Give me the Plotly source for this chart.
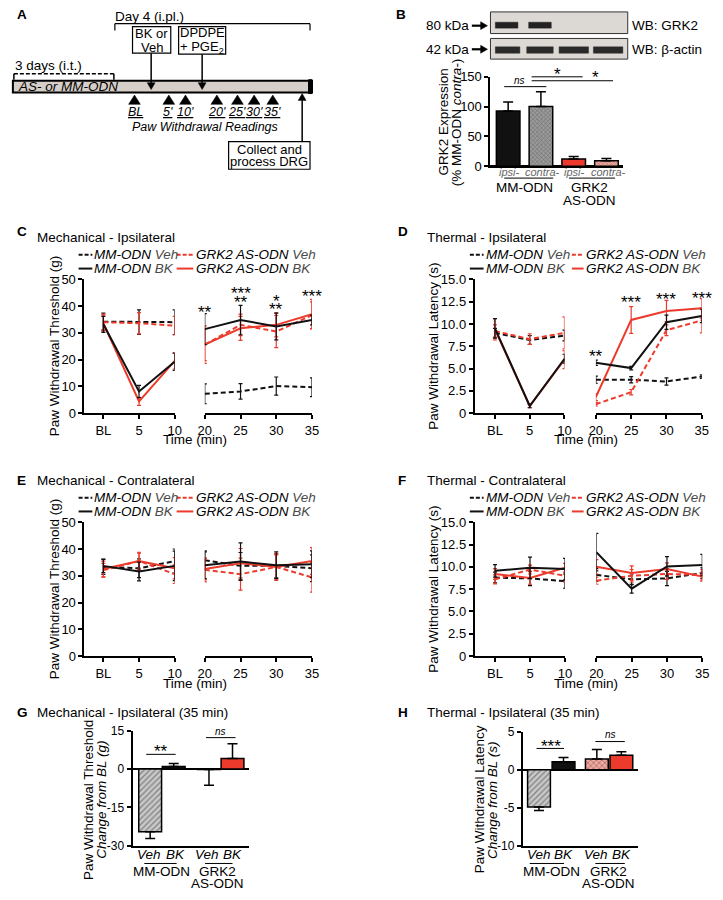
import plotly.graph_objects as go

W, H = 723, 900
FONT = "Liberation Sans, Arial, Helvetica, sans-serif"
RED = "#ec3b2c"
LRED = "#f5a79d"
BLK = "#111111"
DASH = "5px,3px"

# ------------------------------------------------------------------ data
time_left = ["BL", "5", "10"]
time_right = [20, 25, 30, 35]

# C  Mechanical - Ipsilateral (g)
c_mm_veh = [34.2, 34.0, 34.0, 7.2, 8.1, 10.1, 9.7]
c_mm_veh_err = [3.2, 4.6, 4.6, 3.7, 2.9, 3.4, 3.5]
c_as_veh = [34.0, 33.6, 32.7, 25.6, 33.0, 30.5, 36.6]
c_as_veh_err = [3.0, 4.0, 3.5, 6.0, 4.0, 6.0, 5.0]
c_mm_bk = [33.2, 8.1, 19.2, 31.4, 34.8, 32.4, 34.8]
c_mm_bk_err = [3.0, 2.3, 3.2, 5.8, 5.5, 5.0, 1.8]
c_as_bk = [33.6, 4.4, 19.5, 25.6, 31.7, 33.0, 37.0]
c_as_bk_err = [3.0, 1.5, 3.0, 7.0, 4.5, 4.5, 5.5]
c_sig_x = ["5", 20, 25, 25, 30, 30, 35]
c_sig_y = [40.7, 39.3, 46.2, 43.0, 43.2, 40.1, 45.2]
c_sig_t = ["***", "**", "***", "**", "*", "**", "***"]

# D  Thermal - Ipsilateral (s)
d_mm_veh = [9.0, 8.2, 8.7, 3.75, 3.75, 3.55, 4.1]
d_mm_veh_err = [0.5, 0.5, 0.6, 0.4, 0.35, 0.4, 0.2]
d_as_veh = [9.2, 8.3, 9.0, 1.0, 2.35, 9.3, 10.4]
d_as_veh_err = [0.7, 0.6, 1.8, 0.2, 0.3, 0.6, 1.4]
d_mm_bk = [9.5, 0.8, 6.1, 5.65, 5.05, 10.2, 10.9]
d_mm_bk_err = [1.1, 0.2, 0.5, 0.3, 0.2, 0.8, 0.75]
d_as_bk = [9.4, 0.8, 6.0, 1.8, 10.45, 11.45, 11.75]
d_as_bk_err = [1.2, 0.2, 1.0, 0.4, 1.5, 1.2, 1.1]
d_sig_x = ["5", 20, 25, 30, 35]
d_sig_y = [9.95, 6.75, 12.8, 13.2, 13.3]
d_sig_t = ["***", "**", "***", "***", "***"]

# E  Mechanical - Contralateral (g)
e_mm_veh = [33.3, 32.8, 35.5, 35.8, 33.7, 33.7, 32.8]
e_mm_veh_err = [2.8, 3.5, 4.5, 3.5, 5.0, 4.5, 5.0]
e_as_veh = [32.1, 35.5, 30.6, 32.2, 30.6, 33.3, 29.4]
e_as_veh_err = [2.5, 3.3, 3.5, 4.5, 6.0, 4.5, 5.5]
e_mm_bk = [33.7, 31.6, 33.7, 33.9, 35.3, 33.9, 34.3]
e_mm_bk_err = [2.5, 3.5, 5.5, 5.0, 7.0, 5.0, 5.0]
e_as_bk = [32.5, 35.5, 32.8, 32.5, 34.7, 33.3, 35.5]
e_as_bk_err = [3.0, 3.0, 4.0, 4.0, 5.5, 5.0, 5.0]

# F  Thermal - Contralateral (s)
f_mm_veh = [8.8, 8.7, 8.4, 9.1, 8.6, 8.7, 9.3]
f_mm_veh_err = [0.6, 0.8, 0.8, 0.7, 0.6, 0.8, 0.6]
f_as_veh = [8.6, 9.7, 9.0, 8.45, 9.0, 9.2, 9.1]
f_as_veh_err = [0.5, 0.5, 0.7, 0.4, 0.7, 0.6, 0.6]
f_mm_bk = [9.55, 9.9, 9.75, 11.65, 7.55, 10.05, 10.2]
f_mm_bk_err = [0.7, 1.2, 1.2, 2.1, 0.5, 1.1, 1.2]
f_as_bk = [9.2, 8.75, 9.9, 10.0, 9.3, 9.75, 8.9]
f_as_bk_err = [0.6, 0.7, 0.5, 0.8, 0.8, 0.7, 0.5]

# G / H  change from BL at 35 min (MM Veh, MM BK, AS Veh, AS BK)
g_values = [-24.5, 1.0, -0.2, 4.1]
g_err = [2.7, 1.2, 6.1, 5.8]
h_values = [-4.9, 1.05, 1.4, 1.9]
h_err = [0.45, 0.55, 1.25, 0.45]

# B  GRK2 expression
b_labels = ["MM ipsi", "MM contra", "AS ipsi", "AS contra"]
b_values = [92.5, 100.4, 12.1, 9.4]
b_err = [15.5, 24.6, 4.5, 3.8]

# ------------------------------------------------------------------ helpers
def X(px):
    return px / W


def Y(py):
    return 1 - py / H


shapes = []
annotations = []
layout_axes = {}
traces = []


def ax_names(i):
    return ("xaxis" if i == 1 else f"xaxis{i}", "x" if i == 1 else f"x{i}")


def ay_names(i):
    return ("yaxis" if i == 1 else f"yaxis{i}", "y" if i == 1 else f"y{i}")


def txt(text, x, y, size=13, xanchor="center", yanchor="middle", angle=0,
        color="black", xref="paper", yref="paper", yshift=0):
    annotations.append(dict(
        text=text, showarrow=False, xanchor=xanchor, yanchor=yanchor,
        x=X(x) if xref == "paper" else x, y=Y(y) if yref == "paper" else y,
        xref=xref, yref=yref, textangle=angle, yshift=yshift,
        font=dict(family=FONT, size=size, color=color)))


def line(x0, y0, x1, y1, width=1.5, color="black", dash="solid"):
    shapes.append(dict(type="line", xref="paper", yref="paper",
                       x0=X(x0), y0=Y(y0), x1=X(x1), y1=Y(y1),
                       line=dict(color=color, width=width, dash=dash)))


def rect(x0, y0, x1, y1, fill="white", lc="black", lw=1.5):
    shapes.append(dict(type="rect", xref="paper", yref="paper",
                       x0=X(x0), y0=Y(y0), x1=X(x1), y1=Y(y1),
                       fillcolor=fill, line=dict(color=lc, width=lw)))


def poly(pts, fill="black"):
    p = "M " + " L ".join(f"{X(a):.5f},{Y(b):.5f}" for a, b in pts) + " Z"
    shapes.append(dict(type="path", xref="paper", yref="paper", path=p,
                       fillcolor=fill, line=dict(color=fill, width=0.5)))


AX = dict(showline=True, linecolor="black", linewidth=2, ticks="outside",
          ticklen=4, tickwidth=2, tickcolor="black", showgrid=False,
          zeroline=False, fixedrange=True, showticklabels=True,
          tickfont=dict(family=FONT, size=13, color="black"))


def line_panel(ixl, ixr, iy, yax_px, xl_end, xr_start, xr_end, ytop, ybot,
               left_min, yrange, ytickvals, yticktext, series):
    xl_key, xl = ax_names(ixl)
    xr_key, xr = ax_names(ixr)
    y_key, yy = ay_names(iy)
    layout_axes[xl_key] = dict(AX, type="category", categoryorder="array",
                               categoryarray=time_left, range=[left_min, 2],
                               domain=[X(yax_px), X(xl_end)], anchor=yy)
    layout_axes[xr_key] = dict(AX, type="linear", range=[20, 35],
                               tickmode="array", tickvals=time_right,
                               domain=[X(xr_start), X(xr_end)], anchor=yy)
    layout_axes[y_key] = dict(AX, range=yrange, tickmode="array",
                              tickvals=ytickvals, ticktext=yticktext,
                              domain=[Y(ybot), Y(ytop)], anchor=xl)
    for vals, err, color, dash in series:
        for xs, sl, xa in ((time_left, slice(0, 3), xl), (time_right, slice(3, 7), xr)):
            traces.append(go.Scatter(
                x=xs, y=vals[sl], mode="lines", xaxis=xa, yaxis=yy,
                cliponaxis=False, showlegend=False, hoverinfo="skip",
                line=dict(color=color, width=2, dash=dash),
                error_y=dict(type="data", array=err[sl], color=color,
                             thickness=1.2, width=2)))
    return xl, xr, yy


def legend(xs0, xs1, xt, xr0, xr1, xrt, y1, y2):
    grey = "<span style='color:#4a4a4a'>%s</span>"
    line(xs0, y1, xs1, y1, 2, BLK, "4px,2px")
    txt("<i>MM-ODN " + grey % "Veh" + "</i>", xt, y1, 13.5, "left")
    line(xr0, y1, xr1, y1, 2, RED, "4px,2px")
    txt("<i>GRK2 AS-ODN " + grey % "Veh" + "</i>", xrt, y1, 13.5, "left")
    line(xs0, y2, xs1, y2, 2, BLK)
    txt("<i>MM-ODN " + grey % "BK" + "</i>", xt, y2, 13.5, "left")
    line(xr0, y2, xr1, y2, 2, RED)
    txt("<i>GRK2 AS-ODN " + grey % "BK" + "</i>", xrt, y2, 13.5, "left")


def series_of(mv, mve, av, ave, mb, mbe, ab, abe):
    return [(mv, mve, BLK, DASH), (av, ave, RED, DASH),
            (ab, abe, RED, "solid"), (mb, mbe, BLK, "solid")]


TH_TICKS = [0, 2.5, 5, 7.5, 10, 12.5, 15]
TH_TEXT = ["0", "2.5", "5.0", "7.5", "10.0", "12.5", "15.0"]
MECH_TICKS = [0, 10, 20, 30, 40, 50]
MECH_TEXT = [str(v) for v in MECH_TICKS]

# ------------------------------------------------------------------ C
xl, xr, yy = line_panel(1, 2, 1, 79, 171, 201.7, 311, 277, 413, -0.53,
                        [0, 50], MECH_TICKS, MECH_TEXT,
                        series_of(c_mm_veh, c_mm_veh_err, c_as_veh, c_as_veh_err,
                                  c_mm_bk, c_mm_bk_err, c_as_bk, c_as_bk_err))
for sx, sy, st in zip(c_sig_x, c_sig_y, c_sig_t):
    txt(st, sx, sy, 17, xref=xl if isinstance(sx, str) else xr, yref=yy, yshift=-4)
txt("<b>C</b>", 8, 228, 13.5, "left")
txt("Mechanical - Ipsilateral", 29, 234, 13.5, "left")
legend(73, 87, 87, 173, 190, 191, 252, 266)
txt("Paw Withdrawal Threshold (g)", 48, 345, 13.5, angle=-90)
txt("Time (min)", 192, 440, 13.5)

# ------------------------------------------------------------------ D
xl, xr, yy = line_panel(3, 4, 2, 477, 568.5, 600.5, 708.5, 277, 413, -0.58,
                        [0, 15], TH_TICKS, TH_TEXT,
                        series_of(d_mm_veh, d_mm_veh_err, d_as_veh, d_as_veh_err,
                                  d_mm_bk, d_mm_bk_err, d_as_bk, d_as_bk_err))
for sx, sy, st in zip(d_sig_x, d_sig_y, d_sig_t):
    txt(st, sx, sy, 17, xref=xl if isinstance(sx, str) else xr, yref=yy, yshift=-4)
txt("<b>D</b>", 397, 228, 13.5, "left")
txt("Thermal - Ipsilateral", 426, 234, 13.5, "left")
legend(472, 486, 486, 576, 588, 588, 252, 266)
txt("Paw Withdrawal Latency (s)", 435, 345, 13.5, angle=-90)
txt("Time (min)", 590, 440, 13.5)

# ------------------------------------------------------------------ E
line_panel(5, 6, 3, 79, 171, 201.7, 311, 524, 660, -0.53,
           [0, 50], MECH_TICKS, MECH_TEXT,
           series_of(e_mm_veh, e_mm_veh_err, e_as_veh, e_as_veh_err,
                     e_mm_bk, e_mm_bk_err, e_as_bk, e_as_bk_err))
txt("<b>E</b>", 8, 482, 13.5, "left")
txt("Mechanical - Contralateral", 29, 482, 13.5, "left")
legend(73, 87, 87, 173, 190, 191, 499, 513)
txt("Paw Withdrawal Threshold (g)", 48, 592, 13.5, angle=-90)
txt("Time (min)", 192, 688, 13.5)

# ------------------------------------------------------------------ F
line_panel(7, 8, 4, 477, 569, 601, 709, 524, 660, -0.58,
           [0, 15], TH_TICKS, TH_TEXT,
           series_of(f_mm_veh, f_mm_veh_err, f_as_veh, f_as_veh_err,
                     f_mm_bk, f_mm_bk_err, f_as_bk, f_as_bk_err))
txt("<b>F</b>", 397, 482, 13.5, "left")
txt("Thermal - Contralateral", 426, 482, 13.5, "left")
legend(472, 486, 486, 576, 588, 588, 499, 513)
txt("Paw Withdrawal Latency (s)", 435, 592, 13.5, angle=-90)
txt("Time (min)", 590, 688, 13.5)

# ------------------------------------------------------------------ bar helpers
BAR_FILL = dict(
    mm_veh=("#c9c9c9", "/", "#555555"),
    mm_bk=(BLK, "", BLK),
    as_veh=(LRED, "x", RED),
    as_bk=(RED, "", RED),
)


def bar_panel(ix, iy, xdom, ydom, xrange, yrange, ytickvals, xs, vals, errs,
              kinds, width, xcat=None, tick_size=13):
    x_key, xa = ax_names(ix)
    y_key, ya = ay_names(iy)
    layout_axes[x_key] = dict(AX, range=xrange, domain=[X(xdom[0]), X(xdom[1])],
                              anchor=ya, ticks="", showticklabels=False)
    if xcat is not None:
        layout_axes[x_key].update(type="category", categoryorder="array",
                                  categoryarray=xcat)
    else:
        layout_axes[x_key].update(type="linear")
    layout_axes[y_key] = dict(AX, type="linear", range=yrange,
                              tickmode="array", tickvals=ytickvals,
                              ticktext=[str(v) for v in ytickvals],
                              domain=[Y(ydom[1]), Y(ydom[0])], anchor=xa,
                              zeroline=True, zerolinecolor="black",
                              zerolinewidth=2,
                              tickfont=dict(family=FONT, size=tick_size,
                                            color="black"))
    traces.append(go.Bar(
        x=xs, y=vals, width=width, xaxis=xa, yaxis=ya, showlegend=False,
        hoverinfo="skip", cliponaxis=False,
        marker=dict(
            color=[BAR_FILL[k][0] for k in kinds],
            line=dict(color="black", width=1.5),
            pattern=dict(shape=[BAR_FILL[k][1] for k in kinds],
                         fgcolor=[BAR_FILL[k][2] for k in kinds],
                         bgcolor=[BAR_FILL[k][0] for k in kinds],
                         size=4, solidity=0.35)),
        error_y=dict(type="data", symmetric=False,
                     array=[e if v >= 0 else 0 for v, e in zip(vals, errs)],
                     arrayminus=[e if v < 0 else 0 for v, e in zip(vals, errs)],
                     color="black", thickness=1.5, width=5)))


KINDS = ["mm_veh", "mm_bk", "as_veh", "as_bk"]

# ------------------------------------------------------------------ G
G_SLOTS = [0, 1, 2.5, 3.5]
bar_panel(9, 5, (128, 247), (736, 853), [-0.75, 4.21], [-30, 15],
          [-30, -15, 0, 15], G_SLOTS, g_values, g_err, KINDS, 0.97,
          tick_size=12)
txt("<b>G</b>", 8, 717, 13.5, "left")
txt("Mechanical - Ipsilateral (35 min)", 29, 717, 13.5, "left")
txt("Paw Withdrawal Threshold", 83, 806, 13.5, angle=-90)
txt("<i>Change from BL (g)</i>", 96, 806, 13.5, angle=-90)
for xv, t in zip([145, 172, 204, 230], ["Veh", "BK", "Veh", "BK"]):
    txt("<i>" + t + "</i>", xv, 862, 13.5)
line(140, 871, 173, 871, 1)
line(202, 871, 230, 871, 1)
txt("MM-ODN", 158, 879, 13.5)
txt("GRK2", 215, 879, 13.5)
txt("AS-ODN", 215, 891, 13.5)
txt("**", 157, 757, 17)
line(142, 760, 172, 760, 1)
txt("<i>ns</i>", 218, 737, 10)
line(203, 743, 233, 743, 1)

# ------------------------------------------------------------------ H
H_SLOTS = [0, 1, 2.36, 3.36]
bar_panel(10, 6, (526, 643), (737, 853), [-0.66, 4.02], [-10, 5],
          [-10, -5, 0, 5], H_SLOTS, h_values, h_err, KINDS, 0.93,
          tick_size=12)
txt("<b>H</b>", 397, 717, 13.5, "left")
txt("Thermal - Ipsilateral (35 min)", 426, 717, 13.5, "left")
txt("Paw Withdrawal Latency", 482, 806, 13.5, angle=-90)
txt("<i>Change from BL (s)</i>", 495, 806, 13.5, angle=-90)
for xv, t in zip([543, 567, 601, 627], ["Veh", "BK", "Veh", "BK"]):
    txt("<i>" + t + "</i>", xv, 862, 13.5)
line(533, 871, 568, 871, 1)
line(600, 871, 630, 871, 1)
txt("MM-ODN", 555, 879, 13.5)
txt("GRK2", 613, 879, 13.5)
txt("AS-ODN", 613, 891, 13.5)
txt("***", 555, 752, 17)
line(540, 754, 568, 754, 1)
txt("<i>ns</i>", 615, 740, 10)
line(600, 747, 630, 747, 1)

# ------------------------------------------------------------------ B
bar_panel(11, 7, (493, 628), (71, 162), [-0.54, 3.5], [0, 150],
          [0, 50, 100, 150], b_labels, b_values, b_err,
          ["mm_bk", "mm_veh", "as_bk", "as_veh"], 0.72, xcat=b_labels)
traces[-1].marker.color = [BLK, "#9a9a9a", RED, LRED]
traces[-1].marker.pattern.shape = ["", "x", "", "x"]
traces[-1].marker.pattern.fgcolor = [BLK, "#333333", RED, RED]
traces[-1].marker.pattern.bgcolor = [BLK, "#9a9a9a", RED, LRED]
traces[-1].marker.pattern.size = 3
txt("<b>B</b>", 395, 8, 13.5, "left")
txt("GRK2 Expression", 445, 117, 13.5, angle=-90)
txt("(% MM-ODN <i>contra-</i>)", 458, 117, 13.5, angle=-90)
for xv, t in zip([512, 546, 579, 613], ["ipsi-", "contra-", "ipsi-", "contra-"]):
    txt("<i>" + t + "</i>", xv, 168, 11, color="#666666")
line(507, 174, 557, 174, 1)
line(573, 174, 620, 174, 1)
txt("MM-ODN", 528, 184, 13.5)
txt("GRK2", 594, 184, 13.5)
txt("AS-ODN", 594, 197, 13.5)
txt("<i>ns</i>", 523, 75, 10)
line(507, 81, 550, 81, 1)
txt("*", 561, 69, 17)
line(535, 71, 587, 71, 1)
txt("*", 600, 72, 17)
line(535, 75, 618, 75, 1)
# western blot
rect(493, 5, 633, 27, "#dcd8d4", "#333333", 1)
rect(493, 32, 633, 53, "#dcd8d4", "#333333", 1)
for a, b in [(498, 521), (532, 555)]:
    rect(a, 15.5, b, 21.5, "#222222", "#222222", 0.5)
for a, b in [(498, 523), (530, 557), (563, 593), (598, 628)]:
    rect(a, 40.5, b, 47, "#2a2a2a", "#2a2a2a", 0.5)
txt("80 kDa", 473, 19, 13.5, "right")
txt("42 kDa", 473, 43, 13.5, "right")
for yv in (19, 43):
    line(474, yv, 485, yv, 2.2)
    poly([(483, yv - 4), (490, yv), (483, yv + 4)])
txt("WB: GRK2", 635, 19, 13.5, "left")
txt("WB: \u03b2-actin", 635, 43, 13.5, "left")

# ------------------------------------------------------------------ A schematic
txt("<b>A</b>", 8, 8, 13.5, "left")
txt("Day 4 (i.pl.)", 145, 10, 13.5)
line(110, 17, 309, 17, 1.2)
line(110, 17, 110, 24, 1.2)
line(309, 17, 309, 24, 1.2)
rect(128, 20, 167, 47, "white", "black", 1.2)
txt("BK or", 147.5, 27, 13)
txt("Veh", 147.5, 41, 13)
rect(175, 20, 223, 48, "white", "black", 1.2)
txt("DPDPE", 199, 26, 13)
txt("+ PGE<sub>2</sub>", 199, 41, 13)
txt("3 days (i.t.)", 42, 60, 13.5)
line(7, 68, 109, 68, 1.5, dash="4px,2px")
line(7, 68, 7, 74, 1.5)
line(109, 68, 109, 74, 1.5)
rect(6, 75, 311, 87, "#d6cec8", "black", 2)
rect(307.5, 74, 311, 88, "black", "black", 1)
txt("<i>AS- or MM-ODN</i>", 9, 81, 13.5, "left")
for xa in (147, 199):
    line(xa, 47 if xa == 147 else 48, xa, 79, 1.5)
    poly([(xa - 4, 77), (xa + 4, 77), (xa, 84)])
for xv in (130, 165, 182, 214, 235, 252, 271):
    poly([(xv - 6, 99), (xv, 89.5), (xv + 6, 99)])
for xv, t in zip((131, 164, 182, 214, 235, 252, 271),
                 ("BL", "5'", "10'", "20'", "25'", "30'", "35'")):
    txt("<u><i>" + t + "</i></u>", xv, 107, 12.5)
txt("<i>Paw Withdrawal Readings</i>", 202, 122, 12.5)
rect(226, 137, 309, 165, "white", "black", 1.2)
txt("Collect and", 267.5, 144.5, 13)
txt("process DRG", 267.5, 157, 13)
line(301, 137, 301, 95, 1.5)
poly([(297, 95), (305, 95), (301, 88)])

# ------------------------------------------------------------------ figure
fig = go.Figure(data=traces)
fig.update_layout(
    width=W, height=H, margin=dict(l=0, r=0, t=0, b=0, pad=0),
    paper_bgcolor="white", plot_bgcolor="white",
    font=dict(family=FONT, color="black"),
    shapes=shapes, annotations=annotations, showlegend=False,
    barmode="overlay", **layout_axes)
fig.write_html("out.html",
               config={"displayModeBar": False, "staticPlot": True},
               post_script="document.body.style.margin='0px';"
                           "document.body.style.overflow='hidden';")
